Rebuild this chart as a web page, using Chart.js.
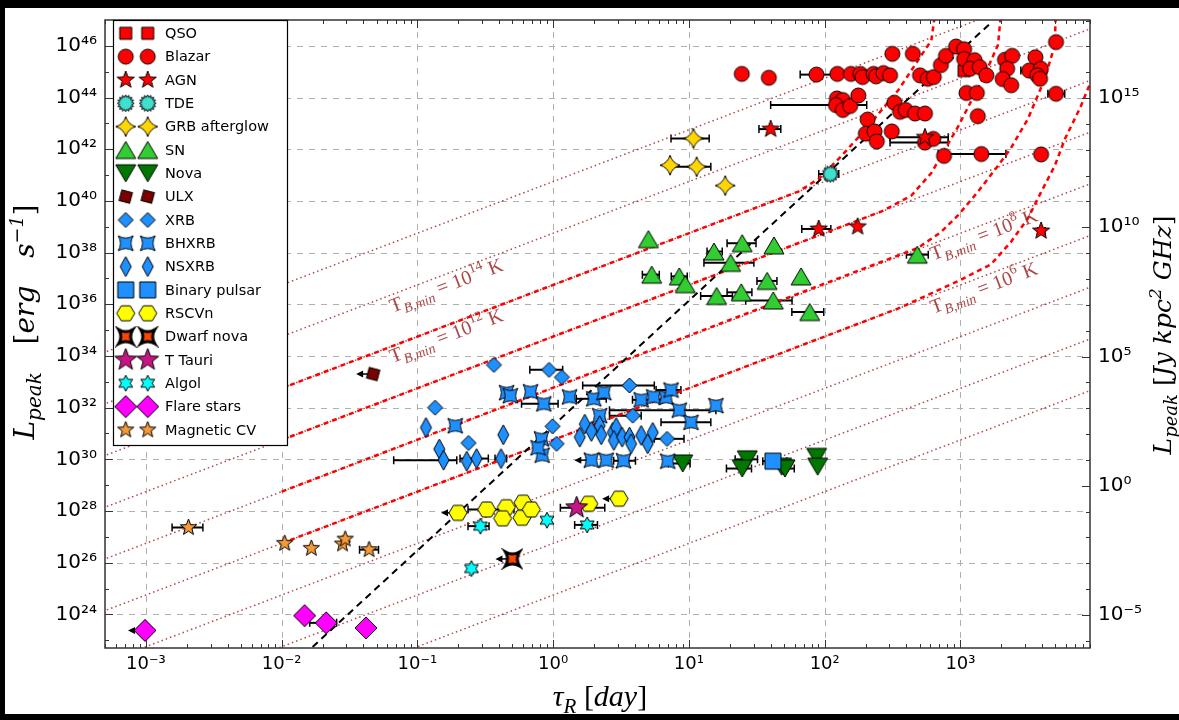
<!DOCTYPE html>
<html>
<head>
<meta charset="utf-8">
<script src="https://cdn.jsdelivr.net/npm/chart.js@4.4.1/dist/chart.umd.min.js"></script>
<style>
  html, body { margin: 0; padding: 0; background: #000; }
  #myChart { display: block; }
</style>
</head>
<body>
<canvas id="myChart" width="1179" height="720"></canvas>
<script>
// axis ranges and tick powers
const xMin = 5e-4, xMax = 9e3;
const yMin = 5e22, yMax = 1e47;
const jyKpc2GHz = 9.52e28;   // erg/s per (Jy kpc^2 GHz)
const xTickPowers = [-3, -2, -1, 0, 1, 2, 3];
const yTickPowers = [24, 26, 28, 30, 32, 34, 36, 38, 40, 42, 44, 46];
const rightTickPowers = [-5, 0, 5, 10, 15];

// rows: [tau (day), L peak (erg/s), tau err low, tau err high, upper limit]
const qso = [[1064, 1.1e45, 977, 1183]];
const blazar = [
  [24.5, 8.2e44], [38.8, 5.8e44], [87, 7.7e44, 66, 113], [124, 8.2e44], [156, 8.2e44],
  [183, 8.2e44], [190, 6.2e44], [229, 8.2e44], [239, 6.6e44], [271, 8.8e44],
  [303, 7.2e44], [315, 4.9e45], [446, 4.9e45], [504, 7.2e44], [574, 5.3e44],
  [636, 6.2e44], [718, 1.8e45], [782, 4.1e45], [929, 9.4e45], [1064, 7.4e45],
  [1064, 3.1e45], [1271, 2.8e45], [1178, 1.3e45], [1387, 1.5e45], [1552, 7.2e44],
  [2128, 2.9e45], [2404, 4.1e45], [2208, 1.3e45], [2046, 5.2e44], [2366, 3.0e44],
  [3565, 3.6e45], [3206, 1.1e45, 2786, 4046], [3909, 1.3e45], [3681, 7.2e44], [3855, 5.3e44],
  [5058, 1.4e46], [5058, 1.4e44, 4406, 5861], [1107, 1.5e44], [1321, 1.5e44], [1342, 1.9e43],
  [3927, 6.3e41], [757, 5.5e41], [1426, 6.5e41, 686, 2163], [123, 9.2e43], [136, 8.0e43],
  [121, 5.1e43, 40, 204], [136, 3.3e43], [154, 4.7e43], [177, 1.2e44], [326, 6.3e43],
  [359, 2.8e43], [395, 3.3e43], [463, 2.4e43], [548, 2.4e43], [207, 1.4e43],
  [201, 4.0e42], [233, 4.9e42], [242, 2.0e42], [312, 4.9e42], [548, 1.8e42, 303, 813],
  [631, 2.5e42]
];
const agn = [
  [40, 6.0e42, 32.8, 47.5], [548, 2.9e42, 303, 813], [90.4, 8.2e38, 67.8, 111],
  [175, 1.0e39], [3927, 6.9e38, 3700, 4200]
];
const tde = [[110, 1.1e41, 90.4, 127]];
const grb = [[10.8, 2.6e42, 7.38, 14.1], [7.26, 2.4e41], [11.4, 2.1e41, 7.38, 14.5], [18.5, 3.9e40]];
const sn = [
  [5.03, 3.3e38], [15.3, 1.1e38, 13.6, 17.6], [24.7, 2.3e38, 19.1, 31.2], [42.3, 1.9e38],
  [20.3, 4.0e37, 12.9, 30.1], [5.32, 1.4e37, 4.54, 6.05], [8.49, 1.2e37, 7.41, 9.72],
  [9.4, 6.0e36], [37.7, 8.0e36, 31.7, 44.5], [67.0, 1.2e37], [16.0, 2.1e36, 12.2, 20.9],
  [24.3, 2.9e36, 19.1, 29.1], [41.8, 1.4e36, 26.2, 57.5], [77.6, 5.0e35, 57.3, 98.4],
  [481, 8.3e37, 400, 579]
];
const nova = [
  [9.0, 6.9e29, 7.05, 10.2], [26.9, 1.0e30, 21.9, 32], [24.7, 4.4e29, 18.9, 28.9],
  [48.2, 5.2e29], [51, 4.4e29, 48.2, 59.7], [87.3, 1.25e30], [88.8, 5.2e29]
];
const ulx = [[0.0472, 2.0e33, null, null, true]];
const xrb = [
  [0.366, 4.5e33], [0.933, 2.9e33, 0.673, 1.175], [1.16, 1.5e33], [3.65, 7.2e32, 1.65, 5.56],
  [0.135, 1.0e32], [0.238, 4.3e30], [0.989, 1.9e31], [1.06, 4.0e30],
  [3.86, 4.9e31, 2.60, 4.45], [6.9, 6.2e30, 5.56, 9.2]
];
const bhxrb = [
  [0.454, 3.8e32], [0.484, 2.9e32], [0.681, 4.1e32], [0.853, 1.4e32, 0.585, 1.087],
  [1.32, 2.6e32], [1.99, 2.2e32, 1.48, 2.46], [2.36, 3.8e32], [4.45, 2.0e32, 3.84, 6.37],
  [5.5, 2.6e32], [6.78, 2.5e32], [7.38, 4.8e32, 5.73, 8.73], [8.49, 8.0e31, 2.60, 15.8],
  [15.8, 1.2e32], [10.35, 2.7e31, 6.23, 14.5], [0.190, 2.0e31], [0.82, 6.2e30],
  [0.83, 1.45e30], [0.774, 2.8e30], [2.20, 4.9e31], [1.91, 9.3e29, null, null, true],
  [2.46, 9.3e29], [3.30, 8.8e29, 2.79, 4.04], [6.98, 8.5e29]
];
const nsxrb = [
  [0.1156, 1.7e31], [0.145, 2.5e30], [0.156, 9.3e29, 0.0669, 0.195], [0.231, 8.5e29],
  [0.273, 1.07e30, 0.206, 0.333], [0.429, 8.9e30], [0.413, 1.07e30, 0.373, 0.454],
  [1.71, 2.3e31], [2.20, 2.0e31], [1.57, 7.2e30], [1.91, 1.2e31], [2.26, 8.9e30],
  [2.75, 1.1e31], [2.91, 1.7e31], [2.80, 5.4e30], [3.22, 7.2e30], [3.65, 7.2e30],
  [3.75, 4.0e30], [4.45, 8.4e30], [4.97, 4.0e30], [5.41, 1.1e31]
];
const pulsar = [[41.6, 8.5e29, 35, 52.6]];
const rscvn = [
  [0.199, 8.5e27, null, null, true], [0.324, 1.15e28, 0.236, 0.514], [0.452, 1.4e28],
  [0.424, 5.2e27], [0.600, 2.1e28], [0.589, 5.5e27], [0.69, 1.15e28], [1.83, 1.9e28],
  [3.06, 3.0e28, null, null, true]
];
const dwarfNova = [[0.501, 1.4e26, null, null, true]];
const tTauri = [[1.49, 1.35e28, 1.13, 2.40]];
const algol = [[0.291, 2.6e27, 0.236, 0.337], [0.90, 4.4e27], [1.78, 2.9e27, 1.44, 2.12], [0.250, 5.9e25]];
const flare = [[0.000985, 2.4e23, null, null, true], [0.01476, 8.9e23], [0.0213, 4.7e23, 0.0161, 0.0254], [0.0418, 3.0e23]];
const magCV = [
  [0.00206, 2.3e27, 0.00156, 0.00263], [0.01054, 5.6e26], [0.01656, 3.6e26],
  [0.0281, 5.3e26], [0.0294, 8.2e26], [0.0441, 3.2e26, 0.0375, 0.0517]
];

const classNames = ['QSO', 'Blazar', 'AGN', 'TDE', 'GRB afterglow', 'SN', 'Nova', 'ULX', 'XRB', 'BHXRB',
  'NSXRB', 'Binary pulsar', 'RSCVn', 'Dwarf nova', 'T Tauri', 'Algol', 'Flare stars', 'Magnetic CV'];
const classData = [qso, blazar, agn, tde, grb, sn, nova, ulx, xrb, bhxrb,
  nsxrb, pulsar, rscvn, dwarfNova, tTauri, algol, flare, magCV];

// brightness temperature lines (dotted), tau endpoints and L at each end
const tbLineTau = [1e-4, 1e4];
const tbLineStartL = [5.6e16, 5.6e18, 5.6e20, 5.6e22, 5.6e24, 5.6e26, 5.6e28, 5.6e30, 5.6e32];
const tbLineEndL = [5.6e32, 5.6e34, 5.6e36, 5.6e38, 5.6e40, 5.6e42, 5.6e44, 5.6e46, 5.6e48];

// red dashed curves
const curve1Tau = [0.01, 64, 90.4, 133, 200, 349, 515, 610, 652];
const curve1L = [5.6e32, 2.3e40, 7.2e40, 5.5e41, 5.9e42, 1.95e44, 4.3e45, 1.6e46, 1.9e47];
const curve2Tau = [0.01, 262, 435, 610, 962, 1517, 1891, 1990];
const curve2L = [5.6e30, 3.9e39, 1.6e40, 1.2e41, 7.6e42, 8.0e44, 1.1e46, 1.9e47];
const curve3Tau = [0.01, 490, 722, 962, 1349, 1891, 2355, 3141, 4178, 4955, 5035];
const curve3L = [5.6e28, 1.55e38, 6.3e38, 2.8e39, 2.3e40, 2.3e41, 1.1e42, 1.5e43, 5.2e44, 1.1e46, 1.9e47];
const curve4Tau = [0.01, 349, 962, 1679, 2355, 3141, 3909, 4955, 5861, 7679, 9418];
const curve4L = [5.6e26, 6.9e35, 7.9e36, 3.5e37, 2.6e38, 2.1e39, 2.1e40, 2.3e41, 2.4e42, 4.4e43, 6.2e44];

// black dashed line
const blackLineTau = [0.0169, 1679];
const blackLineL = [5.5e22, 7.8e46];

// T_B,min annotations
const tbLabelTau = [0.0655, 0.0655, 631, 631];
const tbLabelL = [4.7e35, 5.3e33, 4.9e37, 4.3e35];
const tbLabelExp = ['14', '12', '8', '6'];

// marker looks, same order as classNames
const markerStyles = [
  { shape: 'square', w: 12, h: 12, fill: '#ff0000' },
  { shape: 'circle', w: 15, h: 15, fill: '#ff0000' },
  { shape: 'star', n: 5, inner: 0.42, w: 18, h: 18, fill: '#ff0000' },
  { shape: 'star', n: 16, inner: 0.72, w: 17, h: 17, fill: '#40e0d0' },
  { shape: 'sparkle', w: 20, h: 20, fill: '#ffd700' },
  { shape: 'triUp', w: 20, h: 17, fill: '#32cd32' },
  { shape: 'triDown', w: 20, h: 17, fill: '#007800' },
  { shape: 'square', w: 11, h: 11, rot: 0.26, fill: '#7b0000' },
  { shape: 'diamond', w: 15, h: 15, fill: '#1e90ff' },
  { shape: 'concave', w: 15, h: 15, fill: '#1e90ff' },
  { shape: 'diamond', w: 11, h: 20, fill: '#1e90ff' },
  { shape: 'square', w: 16, h: 16, fill: '#1e90ff' },
  { shape: 'hex', w: 18, h: 15, fill: '#ffff00' },
  { shape: 'concave', w: 14, h: 14, fill: '#ff4500', lw: 3 },
  { shape: 'star', n: 5, inner: 0.42, w: 23, h: 23, fill: '#c71585' },
  { shape: 'star', n: 6, inner: 0.55, w: 16, h: 16, fill: '#00ffff' },
  { shape: 'diamond', w: 22, h: 22, fill: '#ff00ff' },
  { shape: 'star', n: 5, inner: 0.42, w: 17, h: 17, fill: '#f59a36' }
];

function makeMarker(s) {
  const lw = s.lw || 1;
  const pad = Math.ceil(lw) + (s.rot ? 3 : 1);
  const cv = document.createElement('canvas');
  cv.width = Math.ceil(s.w) + 2 * pad;
  cv.height = Math.ceil(s.h) + 2 * pad;
  const g = cv.getContext('2d');
  g.translate(cv.width / 2, cv.height / 2);
  const rx = s.w / 2, ry = s.h / 2;
  g.beginPath();
  if (s.shape === 'circle') {
    g.arc(0, 0, rx, 0, Math.PI * 2);
  } else if (s.shape === 'square') {
    g.rotate(s.rot || 0);
    g.rect(-rx, -ry, s.w, s.h);
  } else if (s.shape === 'diamond') {
    g.moveTo(0, -ry); g.lineTo(rx, 0); g.lineTo(0, ry); g.lineTo(-rx, 0); g.closePath();
  } else if (s.shape === 'triUp') {
    g.moveTo(0, -ry); g.lineTo(rx, ry); g.lineTo(-rx, ry); g.closePath();
  } else if (s.shape === 'triDown') {
    g.moveTo(0, ry); g.lineTo(rx, -ry); g.lineTo(-rx, -ry); g.closePath();
  } else if (s.shape === 'hex') {
    g.moveTo(rx, 0); g.lineTo(rx / 2, ry); g.lineTo(-rx / 2, ry);
    g.lineTo(-rx, 0); g.lineTo(-rx / 2, -ry); g.lineTo(rx / 2, -ry); g.closePath();
  } else if (s.shape === 'star') {
    for (let i = 0; i < 2 * s.n; i++) {
      const a = -Math.PI / 2 + i * Math.PI / s.n;
      const r = i % 2 ? s.inner : 1;
      const px = rx * r * Math.cos(a), py = ry * r * Math.sin(a);
      if (i) g.lineTo(px, py); else g.moveTo(px, py);
    }
    g.closePath();
  } else if (s.shape === 'concave') {
    const c = 0.4;
    g.moveTo(-rx, -ry);
    g.quadraticCurveTo(0, -ry * c, rx, -ry);
    g.quadraticCurveTo(rx * c, 0, rx, ry);
    g.quadraticCurveTo(0, ry * c, -rx, ry);
    g.quadraticCurveTo(-rx * c, 0, -rx, -ry);
    g.closePath();
  } else if (s.shape === 'sparkle') {
    const c = 0.22;
    g.moveTo(0, -ry);
    g.quadraticCurveTo(rx * c, -ry * c, rx, 0);
    g.quadraticCurveTo(rx * c, ry * c, 0, ry);
    g.quadraticCurveTo(-rx * c, ry * c, -rx, 0);
    g.quadraticCurveTo(-rx * c, -ry * c, 0, -ry);
    g.closePath();
  }
  g.fillStyle = s.fill;
  g.fill();
  g.lineWidth = lw;
  g.strokeStyle = '#000';
  g.lineJoin = 'miter';
  g.stroke();
  return cv;
}

const markers = markerStyles.map(makeMarker);

const sup = { '-': '⁻', '0': '⁰', '1': '¹', '2': '²', '3': '³', '4': '⁴', '5': '⁵', '6': '⁶', '7': '⁷', '8': '⁸', '9': '⁹' };
function powLabel(v) {
  const p = Math.round(Math.log10(v));
  return '10' + String(p).split('').map(ch => sup[ch]).join('');
}

const datasets = [];
classData.forEach((rows, i) => {
  datasets.push({
    label: classNames[i],
    type: 'scatter',
    data: rows.map(r => ({ x: r[0], y: r[1], lo: r[2], hi: r[3], lim: r[4] })),
    pointStyle: markers[i],
    pointRadius: 6,
    errorBars: true,
    order: 100 - i
  });
});

function lineSet(taus, ls, color, dash, width, order) {
  return {
    type: 'line',
    data: taus.map((t, i) => ({ x: t, y: ls[i] })),
    borderColor: color,
    borderDash: dash,
    borderWidth: width,
    pointRadius: 0,
    showLine: true,
    fill: false,
    tension: 0,
    order: order
  };
}

tbLineStartL.forEach((l0, k) => {
  datasets.push(lineSet(tbLineTau, [l0, tbLineEndL[k]], 'rgba(165,42,42,0.85)', [1.5, 3], 1.5, 203));
});
datasets.push(lineSet(curve1Tau, curve1L, '#ff0000', [5, 4], 2.5, 202));
datasets.push(lineSet(curve2Tau, curve2L, '#ff0000', [5, 4], 2.5, 202));
datasets.push(lineSet(curve3Tau, curve3L, '#ff0000', [5, 4], 2.5, 202));
datasets.push(lineSet(curve4Tau, curve4L, '#ff0000', [5, 4], 2.5, 202));
datasets.push(lineSet(blackLineTau, blackLineL, '#000000', [7, 5], 2, 201));

// axis title drawn piece by piece; extra room goes into the word spaces
function drawTitle(c, parts, cx, cy, rot, target) {
  c.save();
  c.translate(cx, cy);
  c.rotate(rot);
  c.fillStyle = '#000';
  c.textBaseline = 'alphabetic';
  let natural = 0, spaces = 0;
  parts.forEach(p => {
    c.font = p[1];
    natural += c.measureText(p[0]).width;
    spaces += (p[0].match(/ /g) || []).length;
  });
  const extra = spaces ? Math.max(0, (target - natural) / spaces) : 0;
  let x = -(natural + extra * spaces) / 2;
  parts.forEach(p => {
    c.font = p[1];
    p[0].split('').forEach(ch => {
      c.fillText(ch, x, p[2]);
      x += c.measureText(ch).width + (ch === ' ' ? extra : 0);
    });
  });
  c.restore();
}

const serif = '"Liberation Serif", "DejaVu Serif", serif';
const wideSerif = '"DejaVu Serif", serif';

const framePlugin = {
  id: 'frame',
  beforeDraw(chart) {
    const c = chart.ctx;
    c.save();
    c.fillStyle = '#000';
    c.fillRect(0, 0, chart.width, chart.height);
    c.fillStyle = '#fff';
    c.fillRect(5, 8, chart.width - 5, 706);
    c.restore();
  },
  beforeDatasetsDraw(chart) {
    const c = chart.ctx, a = chart.chartArea, xs = chart.scales.x, ys = chart.scales.y;
    c.save();
    c.strokeStyle = '#b0b0b0';
    c.lineWidth = 1;
    c.setLineDash([6, 6]);
    xTickPowers.forEach(p => {
      const x = Math.round(xs.getPixelForValue(Math.pow(10, p))) + 0.5;
      c.beginPath(); c.moveTo(x, a.top); c.lineTo(x, a.bottom); c.stroke();
    });
    yTickPowers.forEach(p => {
      const y = Math.round(ys.getPixelForValue(Math.pow(10, p))) + 0.5;
      c.beginPath(); c.moveTo(a.left, y); c.lineTo(a.right, y); c.stroke();
    });
    c.setLineDash([]);
    // error bars and upper-limit arrows
    c.strokeStyle = '#000';
    c.fillStyle = '#000';
    chart.data.datasets.forEach((ds, di) => {
      if (!ds.errorBars) return;
      const meta = chart.getDatasetMeta(di);
      meta.data.forEach((pt, i) => {
        const r = ds.data[i];
        if (r.lo != null) {
          const x1 = xs.getPixelForValue(r.lo), x2 = xs.getPixelForValue(r.hi);
          c.lineWidth = 2;
          c.beginPath(); c.moveTo(x1, pt.y); c.lineTo(x2, pt.y); c.stroke();
          c.lineWidth = 1.5;
          c.beginPath();
          c.moveTo(x1, pt.y - 4); c.lineTo(x1, pt.y + 4);
          c.moveTo(x2, pt.y - 4); c.lineTo(x2, pt.y + 4);
          c.stroke();
        }
        if (r.lim) {
          const tip = pt.x - 17;
          c.lineWidth = 1.5;
          c.beginPath(); c.moveTo(pt.x, pt.y); c.lineTo(tip + 4, pt.y); c.stroke();
          c.beginPath();
          c.moveTo(tip, pt.y); c.lineTo(tip + 7, pt.y - 3.5); c.lineTo(tip + 7, pt.y + 3.5);
          c.closePath(); c.fill();
        }
      });
    });
    c.restore();
  },
  afterDatasetsDraw(chart) {
    const c = chart.ctx, a = chart.chartArea;
    const xs = chart.scales.x, ys = chart.scales.y, ys2 = chart.scales.y2;
    c.save();
    // T_B,min labels
    const ang = Math.atan2(ys.getPixelForValue(1e30) - ys.getPixelForValue(1e32),
                           xs.getPixelForValue(10) - xs.getPixelForValue(1));
    tbLabelTau.forEach((t, i) => {
      c.save();
      c.translate(xs.getPixelForValue(t), ys.getPixelForValue(tbLabelL[i]));
      c.rotate(-ang);
      c.fillStyle = 'rgba(160,40,40,0.85)';
      const parts = [['T', '20px ' + serif, 0], ['B,min', 'italic 14px ' + serif, 5],
                     [' = 10', '20px ' + serif, 0], [tbLabelExp[i], '14px ' + serif, -9], [' K', '20px ' + serif, 0]];
      let x = 0;
      parts.forEach(p => { c.font = p[1]; c.fillText(p[0], x, p[2]); x += c.measureText(p[0]).width; });
      c.restore();
    });
    // frame
    c.strokeStyle = '#333';
    c.lineWidth = 1.5;
    c.strokeRect(a.left, a.top, a.right - a.left, a.bottom - a.top);
    // inward ticks
    c.lineWidth = 1;
    c.beginPath();
    for (let d = -4; d <= 3; d++) {
      for (let m = 1; m <= 9; m++) {
        const v = m * Math.pow(10, d);
        if (v < xMin || v > xMax) continue;
        const x = Math.round(xs.getPixelForValue(v)) + 0.5;
        const len = m === 1 ? 8 : 4;
        c.moveTo(x, a.bottom); c.lineTo(x, a.bottom - len);
        c.moveTo(x, a.top); c.lineTo(x, a.top + len);
      }
    }
    for (let p = 23; p <= 46; p++) {
      const y = Math.round(ys.getPixelForValue(Math.pow(10, p))) + 0.5;
      const len = p % 2 === 0 ? 8 : 4;
      c.moveTo(a.left, y); c.lineTo(a.left + len, y);
    }
    for (let p = -6; p <= 18; p++) {
      const y = Math.round(ys2.getPixelForValue(Math.pow(10, p))) + 0.5;
      if (y < a.top || y > a.bottom) continue;
      const len = p % 5 === 0 ? 8 : 4;
      c.moveTo(a.right, y); c.lineTo(a.right - len, y);
    }
    c.stroke();
    // legend
    c.fillStyle = '#fff';
    c.fillRect(113, 20, 174, 425);
    c.strokeStyle = '#000';
    c.lineWidth = 1.2;
    c.strokeRect(113.5, 20.5, 174, 425);
    c.fillStyle = '#000';
    c.font = '14.5px "DejaVu Sans", sans-serif';
    c.textBaseline = 'middle';
    classNames.forEach((name, i) => {
      const y = 33.3 + i * 23.33;
      const m = markers[i];
      c.drawImage(m, 125.7 - m.width / 2, y - m.height / 2);
      c.drawImage(m, 147.7 - m.width / 2, y - m.height / 2);
      c.fillText(name, 165, y + 1);
    });
    c.restore();
  },
  afterDraw(chart) {
    const c = chart.ctx;
    drawTitle(c, [['L', 'italic 28px ' + wideSerif, 0], ['peak', 'italic 20px ' + wideSerif, 7],
      [' [', '28px ' + wideSerif, 0], ['erg s', 'italic 28px ' + wideSerif, 0], ['−1', 'italic 19px ' + wideSerif, -11],
      [']', '28px ' + wideSerif, 0]], 34, 322, -Math.PI / 2, 235);
    drawTitle(c, [['L', 'italic 25px ' + wideSerif, 0], ['peak', 'italic 18px ' + wideSerif, 6],
      [' [', '25px ' + wideSerif, 0], ['Jy kpc', 'italic 25px ' + wideSerif, 0], ['2', 'italic 17px ' + wideSerif, -10],
      [' GHz', 'italic 25px ' + wideSerif, 0], [']', '25px ' + wideSerif, 0]], 1171, 335, -Math.PI / 2, 230);
    drawTitle(c, [['τ', 'italic 30px ' + serif, 0], ['R', 'italic 21px ' + serif, 7],
      [' [', '30px ' + serif, 0], ['day', 'italic 30px ' + serif, 0], [']', '30px ' + serif, 0]], 600, 706, 0, 92);
  }
};

const tickFont = { family: '"DejaVu Sans", sans-serif', size: 20 };

const ctx = document.getElementById('myChart').getContext('2d');
const myChart = new Chart(ctx, {
  type: 'scatter',
  data: { datasets: datasets },
  options: {
    responsive: false,
    animation: false,
    devicePixelRatio: 1,
    events: [],
    layout: { padding: { top: 12, left: 0, right: 0, bottom: 0 } },
    plugins: { legend: { display: false }, tooltip: { enabled: false } },
    scales: {
      x: {
        type: 'logarithmic', position: 'bottom', min: xMin, max: xMax,
        grid: { display: false, drawTicks: false }, border: { display: false },
        afterBuildTicks: s => { s.ticks = xTickPowers.map(p => ({ value: Math.pow(10, p) })); },
        afterFit: s => { s.height = 72; },
        ticks: { callback: v => powLabel(v), font: { family: '"DejaVu Sans", sans-serif', size: 18 },
                 color: '#000', padding: 6, maxRotation: 0, autoSkip: false }
      },
      y: {
        type: 'logarithmic', position: 'left', min: yMin, max: yMax,
        grid: { display: false, drawTicks: false }, border: { display: false },
        afterBuildTicks: s => { s.ticks = yTickPowers.map(p => ({ value: Math.pow(10, p) })); },
        afterFit: s => { s.width = 105; },
        ticks: { callback: v => powLabel(v), font: tickFont, color: '#000', padding: 8, autoSkip: false }
      },
      y2: {
        type: 'logarithmic', position: 'right', min: yMin / jyKpc2GHz, max: yMax / jyKpc2GHz,
        grid: { display: false, drawTicks: false }, border: { display: false },
        afterBuildTicks: s => { s.ticks = rightTickPowers.map(p => ({ value: Math.pow(10, p) })); },
        afterFit: s => { s.width = 89; },
        ticks: { callback: v => powLabel(v), font: tickFont, color: '#000', padding: 8, autoSkip: false }
      }
    }
  },
  plugins: [framePlugin]
});
</script>
</body>
</html>
